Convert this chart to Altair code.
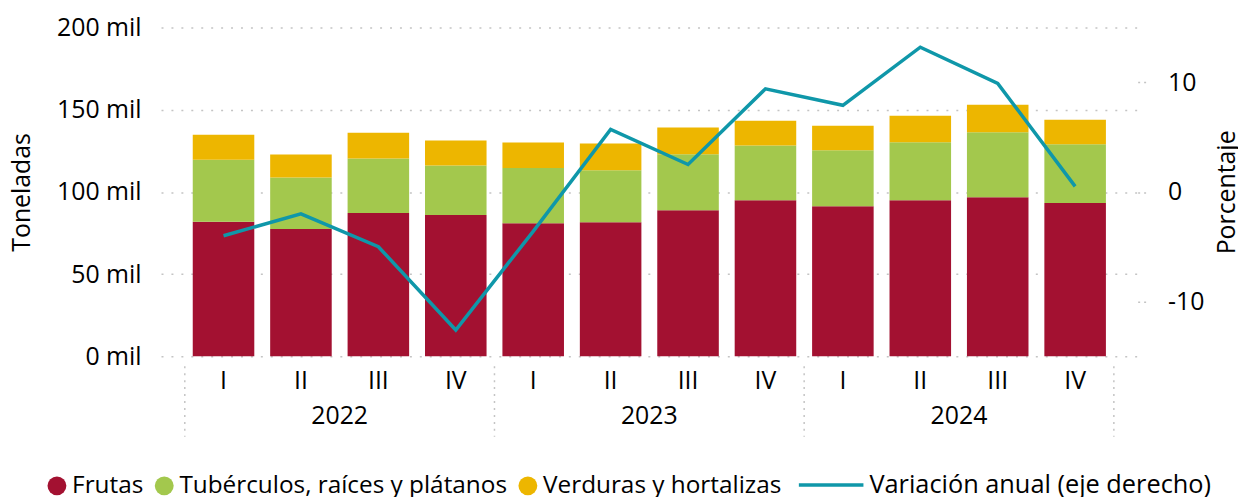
import altair as alt
import pandas as pd

years = ["2022", "2023", "2024"]
quarters = ["I", "II", "III", "IV"]
keys = [f"{y}-{q}" for y in years for q in quarters]

series = ["Frutas", "Tubérculos, raíces y plátanos", "Verduras y hortalizas"]
colors = ["#A31131", "#A3C84D", "#EDB600"]
line_name = "Variación anual (eje derecho)"
line_color = "#0F97A9"

frutas = [81800, 77400, 87100, 85900, 81000, 81600, 88900, 94900, 91300, 94900, 96700, 93300]
tuberculos = [37700, 31400, 33200, 30200, 33500, 31600, 34000, 33300, 34000, 35300, 39500, 35700]
verduras = [15300, 13900, 15700, 15100, 15500, 16200, 16200, 15100, 15000, 16100, 16800, 14900]
variacion = [-4.0, -2.0, -5.0, -12.6, -3.6, 5.7, 2.5, 9.4, 7.9, 13.2, 9.9, 0.5]

FONT = "Open Sans"
FS = 25
LFS = 24.5

rows = []
for s_i, (name, vals) in enumerate(zip(series, [frutas, tuberculos, verduras])):
    for k, v in zip(keys, vals):
        rows.append({"key": k, "serie": name, "valor": v, "orden": s_i})
df_bars = pd.DataFrame(rows)
df_line = pd.DataFrame({"key": keys, "var": variacion, "linea": line_name})
df_sep_left = pd.DataFrame({"key": [f"{y}-I" for y in years]})
df_sep_right = pd.DataFrame({"key": [keys[-1]]})
df_years = pd.DataFrame({"key": [f"{y}-III" for y in years], "year": years})

xscale = alt.Scale(domain=keys, paddingInner=0.205, paddingOuter=0.41)

x_axis = alt.X(
    "key:N", sort=keys, scale=xscale, title=None,
    axis=alt.Axis(labelExpr="split(datum.label, '-')[1]", domain=False, ticks=False,
                  labelAngle=0, labelPadding=12, labelFontSize=FS, labelFont=FONT,
                  labelColor="#000000", grid=False),
)

bars = alt.Chart(df_bars).mark_bar().encode(
    x=x_axis,
    y=alt.Y("valor:Q", stack="zero", scale=alt.Scale(domain=[0, 200000], nice=False),
            axis=alt.Axis(orient="left", values=[0, 50000, 100000, 150000, 200000],
                          labelExpr="(datum.value / 1000) + ' mil'", domain=False, ticks=False,
                          gridDash=[2, 8], gridColor="#c4c4c4", gridWidth=1.5,
                          labelFontSize=FS, labelFont=FONT, labelColor="#000000", labelPadding=20,
                          title="Toneladas", titleFontSize=FS, titleFont=FONT,
                          titleFontWeight="normal", titleColor="#000000", titlePadding=22)),
    color=alt.Color("serie:N", scale=alt.Scale(domain=series, range=colors),
                    legend=alt.Legend(orient="none", legendX=-117, legendY=449, direction="horizontal",
                                      title=None, symbolType="circle", symbolSize=361,
                                      symbolStrokeWidth=0, labelFontSize=LFS, labelFont=FONT,
                                      labelColor="#000000", columnPadding=8, labelOffset=3,
                                      labelLimit=0)),
    order=alt.Order("orden:Q"),
)

line = alt.Chart(df_line).mark_line(strokeWidth=3.5).encode(
    x=alt.X("key:N", sort=keys, scale=xscale),
    y=alt.Y("var:Q", scale=alt.Scale(domain=[-15, 15], nice=False),
            axis=alt.Axis(orient="right", values=[-10, 0, 10], grid=False, domain=False,
                          labelExpr="datum.value < 0 ? '-' + abs(datum.value) : '' + datum.value",
                          ticks=True, tickDash=[2, 4], tickColor="#c4c4c4", tickSize=10, tickWidth=1.5,
                          labelFontSize=FS, labelFont=FONT, labelColor="#000000", labelPadding=20,
                          title="Porcentaje", titleAngle=270, titleFontSize=FS, titleFont=FONT,
                          titleFontWeight="normal", titleColor="#000000", titlePadding=36)),
    stroke=alt.Stroke("linea:N", scale=alt.Scale(domain=[line_name], range=[line_color]),
                      legend=alt.Legend(orient="none", legendX=640, legendY=426, title=None,
                                        symbolType="stroke", symbolSize=4225, symbolStrokeWidth=3.5,
                                        labelFontSize=25.5, labelFont=FONT, labelColor="#000000",
                                        labelOffset=4, labelLimit=0)),
)

sep_left = alt.Chart(df_sep_left).mark_rule(xOffset=-8, strokeDash=[2, 5], color="#c4c4c4", strokeWidth=1.5).encode(
    x=alt.X("key:N", sort=keys, scale=xscale, bandPosition=0),
    y=alt.value(341), y2=alt.value(412),
)
sep_right = alt.Chart(df_sep_right).mark_rule(xOffset=8, strokeDash=[2, 5], color="#c4c4c4", strokeWidth=1.5).encode(
    x=alt.X("key:N", sort=keys, scale=xscale, bandPosition=1),
    y=alt.value(341), y2=alt.value(412),
)
year_text = alt.Chart(df_years).mark_text(xOffset=-8, baseline="middle", align="center",
                                          fontSize=FS, font=FONT, color="#000000").encode(
    x=alt.X("key:N", sort=keys, scale=xscale, bandPosition=0),
    y=alt.value(391),
    text="year:N",
)

chart = alt.layer(bars, line, sep_left, sep_right, year_text).resolve_scale(
    y="independent"
).properties(
    width=983, height=331,
    autosize=alt.AutoSizeParams(type="none"),
    padding={"left": 154, "top": 18, "right": 101, "bottom": 140},
).configure_view(stroke=None)

chart.save("out.html", embed_options={"renderer": "svg", "actions": False})
